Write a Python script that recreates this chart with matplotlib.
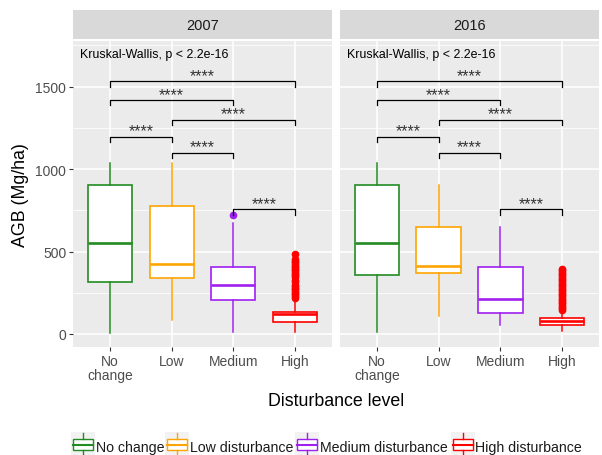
import matplotlib
matplotlib.use("Agg")
import matplotlib.pyplot as plt
from matplotlib.patches import Rectangle

plt.rcParams['font.family'] = ['Liberation Sans', 'DejaVu Sans']

years = ['2007', '2016']
levels = ['No\nchange', 'Low', 'Medium', 'High']
legend_labels = ['No change', 'Low disturbance', 'Medium disturbance', 'High disturbance']
colors = ['#228B22', '#FFA500', '#A020F0', '#FF0000']

# box summaries (AGB, Mg/ha) per disturbance level
whislo_2007 = [5, 85, 14, 14]
q1_2007 = [317, 339, 206, 71]
med_2007 = [551, 422, 299, 120]
q3_2007 = [903, 777, 406, 135]
whishi_2007 = [1035, 1035, 673, 212]
fliers_2007 = [[], [], [721],
               [485, 455, 445, 435, 425, 415, 405, 395, 385, 375, 365, 355, 345,
                325, 315, 300, 290, 280, 270, 260, 250, 240, 230, 220]]

whislo_2016 = [14, 109, 56, 20]
q1_2016 = [357, 372, 127, 52]
med_2016 = [551, 410, 210, 78]
q3_2016 = [903, 650, 406, 95]
whishi_2016 = [1035, 903, 650, 140]
fliers_2016 = [[], [], [],
               [394, 385, 375, 365, 355, 345, 335, 325, 315, 305, 295, 285, 275,
                265, 255, 245, 235, 225, 215, 205, 195, 185, 175, 165, 155, 145]]

# pairwise Wilcoxon comparisons and bracket heights
pairs = [(0, 1), (1, 2), (2, 3), (0, 2), (1, 3), (0, 3)]
bracket_y = [1196, 1097, 755, 1418, 1299, 1531]
signif = ['****'] * 6
kw_label = 'Kruskal-Wallis, p < 2.2e-16'

summaries = {
    '2007': (whislo_2007, q1_2007, med_2007, q3_2007, whishi_2007, fliers_2007),
    '2016': (whislo_2016, q1_2016, med_2016, q3_2016, whishi_2016, fliers_2016),
}

W, H = 602, 456
fig = plt.figure(figsize=(W / 100, H / 100), dpi=100)


def frac(x0, y0, x1, y1):
    return [x0 / W, 1 - y1 / H, (x1 - x0) / W, (y1 - y0) / H]


panels = [(73.3, 331.7), (340, 599)]
top, bottom = 42, 347.7
axes = []
for i, (year, (px0, px1)) in enumerate(zip(years, panels)):
    ax = fig.add_axes(frac(px0, top, px1, bottom))
    axes.append(ax)
    ax.set_facecolor('#EBEBEB')
    for s in ax.spines.values():
        s.set_visible(False)
    ax.set_xlim(0.4, 4.6)
    ax.set_ylim(-77, 1776)
    ax.set_yticks([0, 500, 1000, 1500])
    ax.set_yticks([250, 750, 1250, 1750], minor=True)
    ax.set_xticks([1, 2, 3, 4])
    ax.set_xticklabels(levels, linespacing=1.05)
    ax.grid(which='major', color='white', lw=1.1)
    ax.grid(which='minor', axis='y', color='white', lw=0.55)
    ax.set_axisbelow(True)
    ax.tick_params(which='major', length=3, width=0.8, color='#333333',
                   labelsize=10, labelcolor='#4D4D4D', pad=2)
    ax.tick_params(which='minor', length=0)
    if i > 0:
        ax.tick_params(axis='y', length=0, labelleft=False)

    lo, q1, med, q3, hi, fl = summaries[year]
    stats = [dict(whislo=lo[k], q1=q1[k], med=med[k], q3=q3[k], whishi=hi[k], fliers=fl[k])
             for k in range(4)]
    bp = ax.bxp(stats, positions=[1, 2, 3, 4], widths=0.72, patch_artist=True,
                showcaps=False, manage_ticks=False)
    for k, c in enumerate(colors):
        bp['boxes'][k].set(facecolor='white', edgecolor=c, lw=1.2)
        bp['medians'][k].set(color=c, lw=1.9)
        bp['whiskers'][2 * k].set(color=c, lw=1.1)
        bp['whiskers'][2 * k + 1].set(color=c, lw=1.1)
        bp['fliers'][k].set(marker='o', markerfacecolor=c, markeredgecolor=c,
                            markersize=4.5)

    # significance brackets
    tip = 32
    for (a, b), yb, lab in zip(pairs, bracket_y, signif):
        xa, xb = a + 1, b + 1
        ax.plot([xa, xa, xb, xb], [yb - tip, yb, yb, yb - tip], color='black', lw=0.9)
        ax.annotate(lab, xy=((xa + xb) / 2, yb), xytext=(0, 1), textcoords='offset points',
                    ha='center', va='baseline', fontsize=11.5, color='#333333')
    ax.text(0.51, 1700, kw_label, ha='left', va='center', fontsize=8.9, color='black')

    # facet strip
    sax = fig.add_axes(frac(px0, 11, px1, 40))
    sax.set_facecolor('#D9D9D9')
    sax.set_xticks([])
    sax.set_yticks([])
    for s in sax.spines.values():
        s.set_visible(False)
    sax.text(0.5, 0.5, year, ha='center', va='center', fontsize=10.5, color='#1A1A1A',
             transform=sax.transAxes)

fig.text(336 / W, 1 - 401.5 / H, 'Disturbance level', ha='center', va='center',
         fontsize=12.8, color='black')
fig.text(21 / W, 1 - 195 / H, 'AGB (Mg/ha)', ha='center', va='center', rotation=90,
         fontsize=12.8, color='black')

# legend row along the bottom edge
lax = fig.add_axes([0, 0, 1, 1], zorder=-1)
lax.set_xlim(0, W)
lax.set_ylim(H, 0)
lax.axis('off')
key_x = [71.3, 165, 295, 451]
text_x = [96, 190, 320, 475]
ky = 433.5
for kx, tx, c, lab in zip(key_x, text_x, colors, legend_labels):
    lax.add_patch(Rectangle((kx, ky), 24, 24, facecolor='#F2F2F2', edgecolor='none'))
    cx = kx + 12
    lax.plot([cx, cx], [ky + 1, ky + 7], color=c, lw=1.0)
    lax.plot([cx, cx], [ky + 18, ky + 24], color=c, lw=1.0)
    lax.add_patch(Rectangle((kx + 1.5, ky + 7), 20.5, 11, facecolor='white',
                            edgecolor=c, lw=1.0))
    lax.plot([kx + 1.5, kx + 22], [ky + 12.5, ky + 12.5], color=c, lw=1.5)
    lax.text(tx, ky + 19, lab, ha='left', va='baseline', fontsize=10.2, color='#1A1A1A')

fig.savefig('out.png', dpi=100)
